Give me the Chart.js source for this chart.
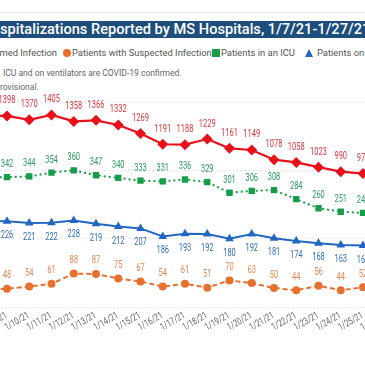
<!DOCTYPE html>
<html><head><meta charset="utf-8">
<script src="https://cdn.jsdelivr.net/npm/chart.js@4.4.1/dist/chart.umd.min.js"></script>
<style>
html,body{margin:0;padding:0;background:#fff;}
body{width:365px;height:365px;overflow:hidden;position:relative;font-family:Roboto,"Noto Sans",sans-serif;}
.abs{position:absolute;white-space:nowrap;}
.pre{position:absolute;right:100%;top:0;}
</style></head><body>
<div class="abs" style="left:0;top:12px;width:365px;height:1px;background:#e6e6e6"></div>
<div class="abs" style="left:0;top:21px;width:365px;height:17px;background:#1E4E7C"></div>
<div id="title" class="abs" style="left:0;top:21px;height:17px;line-height:17px;color:#fff;font-weight:500"><span class="pre">COVID-19 Ho</span>spitalizations Reported by MS Hospitals, 1/7/21-1/27/21</div>
<div id="legend"></div>
<div id="note1" class="abs" style="left:3px;color:#666;line-height:14px;top:66px">ICU and on ventilators are COVID-19 confirmed.</div>
<div id="note2" class="abs" style="left:0;color:#666;line-height:14px;top:80px"><span class="pre">p</span>rovisional.</div>
<div id="chartbox" class="abs" style="left:-100px;top:0;"><canvas id="c" width="565" height="365" style="width:565px;height:365px"></canvas></div>
<script>
// ---- data ----
const categories = ['1/8/21','1/9/21','1/10/21','1/11/21','1/12/21','1/13/21','1/14/21','1/15/21','1/16/21','1/17/21','1/18/21','1/19/21','1/20/21','1/21/21','1/22/21','1/23/21','1/24/21','1/25/21','1/26/21'];
const confirmed = [1400,1398,1370,1405,1358,1366,1332,1269,1191,1188,1229,1161,1149,1078,1058,1023,990,976,null];
const suspected = [47,48,54,61,88,87,75,67,54,61,51,70,63,50,44,56,44,52,null];
const icu = [341,342,344,354,360,347,340,333,331,336,329,301,306,308,284,260,251,248,null];
const ventilators = [226,226,221,222,228,219,212,207,186,193,192,180,192,181,174,168,163,162,null];
const seriesNames = ['Patients with Confirmed Infection','Patients with Suspected Infection','Patients in an ICU','Patients on Ventilators'];

// ---- text fitting ----
const mctx = document.createElement('canvas').getContext('2d');
function sizeFor(text, target, weight, family){ mctx.font = weight+' 100px '+family; return 100*target/mctx.measureText(text).width; }
const FAM = 'Roboto';
document.getElementById('title').style.fontSize = sizeFor('spitalizations Reported by MS Hospitals, 1/7/21-1/27/2', 362, 500, FAM)+'px';
const noteSize = sizeFor('ICU and on ventilators are COVID-19 confirmed.', 179, 400, FAM);
document.getElementById('note1').style.fontSize = noteSize+'px';
document.getElementById('note2').style.fontSize = noteSize+'px';

// legend
const legSize = sizeFor(seriesNames[1], 140, 400, FAM);
const legend = document.getElementById('legend');
const legCols = ['#E8111A','#E8702F','#179C4A','#2167C1'];
const legY = 53;
function addText(txt, css){ const d=document.createElement('div'); d.className='abs'; d.textContent=txt; d.style.cssText += 'color:#555;font-size:'+legSize+'px;line-height:14px;top:'+(legY-7)+'px;'+css; legend.appendChild(d); }
function addMark(css){ const d=document.createElement('div'); d.className='abs'; d.style.cssText += css; legend.appendChild(d); }
addText(seriesNames[0], 'right:'+(365-57)+'px;');
addMark('left:63px;top:'+(legY-4)+'px;width:8px;height:8px;border-radius:50%;background:'+legCols[1]);
addText(seriesNames[1], 'left:72px;');
addMark('left:212px;top:'+(legY-4)+'px;width:8px;height:8px;background:'+legCols[2]);
addText(seriesNames[2], 'left:221px;');
addMark('left:305px;top:'+(legY-4)+'px;width:0;height:0;border-left:4.5px solid transparent;border-right:4.5px solid transparent;border-bottom:8px solid '+legCols[3]);
addText(seriesNames[3], 'left:317px;');

// ---- chart ----
const labelPlugin = {
  id:'pointLabels',
  afterDatasetsDraw(chart){
    const ctx = chart.ctx;
    chart.data.datasets.forEach((ds,i)=>{
      const meta = chart.getDatasetMeta(i);
      meta.data.forEach((pt,j)=>{
        const v = ds.data[j]; if(v==null) return;
        ctx.save();
        ctx.font = '10px Roboto';
        ctx.fillStyle = ds.labelColor;
        ctx.textAlign='center'; ctx.textBaseline='middle';
        ctx.translate(pt.x, pt.y + ds.labelOffset);
        ctx.scale(0.75,1);
        ctx.fillText(String(v),0,0);
        ctx.restore();
      });
    });
  }
};
// rotated category labels drawn at the x scale's tick positions
const tickPlugin = {
  id:'rotTicks',
  afterDraw(chart){
    const ctx = chart.ctx, xs = chart.scales.x, base = chart.chartArea.bottom;
    xs.ticks.forEach((t,i)=>{
      const x = xs.getPixelForTick(i);
      ctx.save();
      ctx.font = '10px Roboto';
      ctx.fillStyle = '#666';
      ctx.translate(x - 0.5, base + 8);
      ctx.rotate(-30*Math.PI/180);
      ctx.scale(0.74,1);
      ctx.textAlign='right'; ctx.textBaseline='middle';
      ctx.fillText(xs.getLabelForValue(t.value),0,0);
      ctx.restore();
    });
  }
};
const CANVAS_LEFT = -100, CW = 565;
const want = {left: 7 - 22.25 - CANVAS_LEFT, right: 363 + 22.25 - CANVAS_LEFT, top: 102, bottom: 307};
const pad = {left: want.left, right: CW - want.right, top: want.top, bottom: 50};
const chart = new Chart(document.getElementById('c'), {
  type:'line',
  data:{labels:categories, datasets:[
    {label:seriesNames[0], data:confirmed, yAxisID:'y1', borderColor:legCols[0], backgroundColor:legCols[0], borderWidth:2.2, pointStyle:'rectRot', pointRadius:5.5, pointBorderWidth:0, labelColor:'#E0373F', labelOffset:-15},
    {label:seriesNames[1], data:suspected, yAxisID:'y', borderColor:legCols[1], backgroundColor:legCols[1], borderWidth:2, borderDash:[5,3], pointStyle:'circle', pointRadius:4, pointBorderWidth:0, labelColor:'#EA8652', labelOffset:-13},
    {label:seriesNames[2], data:icu, yAxisID:'y', borderColor:legCols[2], backgroundColor:legCols[2], borderWidth:2, borderDash:[2,3], pointStyle:'rect', pointRadius:4.5, pointBorderWidth:0, labelColor:'#2A9A5E', labelOffset:-12.5},
    {label:seriesNames[3], data:ventilators, yAxisID:'y', borderColor:legCols[3], backgroundColor:legCols[3], borderWidth:2, pointStyle:'triangle', pointRadius:5, pointBorderWidth:0, labelColor:'#356FB5', labelOffset:14.5}
  ]},
  options:{
    responsive:false, animation:false, devicePixelRatio:1,
    layout:{padding:{...pad}},
    plugins:{legend:{display:false}, tooltip:{enabled:false}},
    scales:{
      x:{grid:{display:false, drawTicks:false}, border:{display:false}, ticks:{display:false, autoSkip:false}},
      y:{display:false, min:0, max:540},
      y1:{position:'right', min:0, max:1500, ticks:{display:false, stepSize:500}, grid:{color:'#cfcfcf', drawTicks:false, lineWidth:1}, border:{display:false, dash:[1,3]}}
    }
  },
  plugins:[labelPlugin, tickPlugin]
});
for (let k=0;k<3;k++){
  const a = chart.chartArea;
  pad.left += want.left - a.left;
  pad.right += a.right - want.right;
  pad.top += want.top - a.top;
  pad.bottom += a.bottom - want.bottom;
  chart.options.layout.padding = {...pad};
  chart.update('none');
}
</script>
</body></html>
